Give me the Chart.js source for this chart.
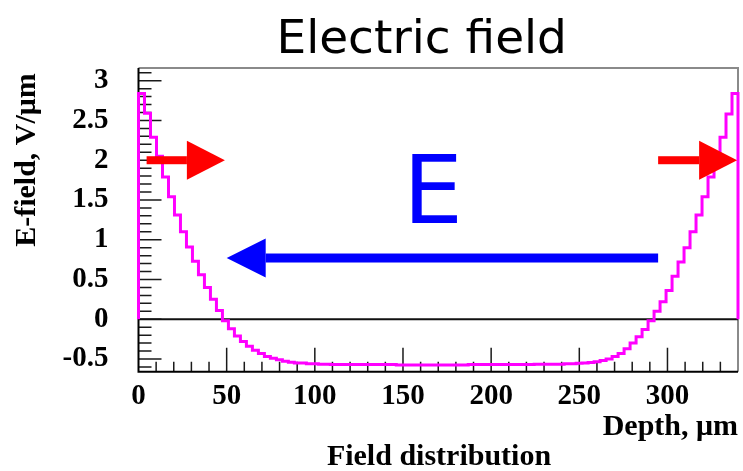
<!DOCTYPE html>
<html>
<head>
<meta charset="utf-8">
<script src="https://cdn.jsdelivr.net/npm/chart.js@4.4.0/dist/chart.umd.min.js"></script>
<style>
  html, body { margin: 0; padding: 0; background: #fff; }
  canvas { display: block; }
</style>
</head>
<body>
<canvas id="chart" width="743" height="471"></canvas>
<script>
// field histogram, one value per 3.4 um bin (0..340 um)
const binWidth = 3.4;
const fieldValues = [
  2.84, 2.59, 2.29, 2.05, 1.79, 1.54, 1.31, 1.10, 0.91, 0.73,
  0.56, 0.40, 0.25, 0.11, -0.02, -0.12, -0.21, -0.28, -0.34, -0.39,
  -0.43, -0.47, -0.49, -0.51, -0.53, -0.54, -0.55, -0.55, -0.56, -0.56,
  -0.565, -0.565, -0.57, -0.57, -0.57, -0.57, -0.57, -0.57, -0.57, -0.57,
  -0.57, -0.57, -0.57, -0.575, -0.575, -0.575, -0.575, -0.575, -0.575, -0.575,
  -0.575, -0.575, -0.575, -0.575, -0.575, -0.57, -0.57, -0.57, -0.57, -0.57,
  -0.57, -0.57, -0.57, -0.57, -0.57, -0.57, -0.565, -0.565, -0.565, -0.565,
  -0.565, -0.56, -0.56, -0.555, -0.55, -0.545, -0.535, -0.52, -0.50, -0.47,
  -0.43, -0.37, -0.30, -0.22, -0.13, -0.02, 0.10, 0.22, 0.36, 0.54,
  0.72, 0.90, 1.10, 1.31, 1.54, 1.79, 2.05, 2.29, 2.58, 2.84
];
const xTickValues = [0, 50, 100, 150, 200, 250, 300];
const xTickLabels = ['0', '50', '100', '150', '200', '250', '300'];
const yTickValues = [-0.5, 0, 0.5, 1, 1.5, 2, 2.5, 3];
const yTickLabels = ['-0.5', '0', '0.5', '1', '1.5', '2', '2.5', '3'];

// arrows drawn on top, in data units (um, V/um)
const redArrows = [
  { from: 4.6, to: 49, y: 2 },
  { from: 294.7, to: 339.5, y: 2 }
];
const blueArrow = { from: 294.7, to: 50, y: 0.77 };
const labelE = { x: 167, y: 1.21 };

const points = [{ x: 0, y: 0 }];
fieldValues.forEach((v, i) => points.push({ x: i * binWidth, y: v }));
const xEnd = fieldValues.length * binWidth;
points.push({ x: xEnd, y: fieldValues[fieldValues.length - 1] });
points.push({ x: xEnd, y: 0 });

const serif = '"Liberation Serif", "DejaVu Serif", serif';

function drawArrow(ctx, x, y, a, color, shaft, headLen, headHalf) {
  const x0 = x.getPixelForValue(a.from);
  const x1 = x.getPixelForValue(a.to);
  const py = y.getPixelForValue(a.y);
  const dir = x1 > x0 ? 1 : -1;
  const base = x1 - dir * headLen;
  ctx.fillStyle = color;
  ctx.fillRect(Math.min(x0, base), py - shaft / 2, Math.abs(base - x0), shaft);
  ctx.beginPath();
  ctx.moveTo(x1, py);
  ctx.lineTo(base, py - headHalf);
  ctx.lineTo(base, py + headHalf);
  ctx.closePath();
  ctx.fill();
}

const decorations = {
  id: 'decorations',
  beforeDatasetsDraw(chart) {
    const { ctx, chartArea: a, scales: { x, y } } = chart;
    ctx.save();
    // grey frame top and right
    ctx.strokeStyle = '#8a8a8a';
    ctx.lineWidth = 2;
    ctx.beginPath();
    ctx.moveTo(a.left, a.top);
    ctx.lineTo(a.right, a.top);
    ctx.lineTo(a.right, a.bottom);
    ctx.stroke();

    // inner ticks
    ctx.strokeStyle = '#1a1a1a';
    ctx.lineWidth = 1.5;
    ctx.beginPath();
    for (let k = -6; k <= 31; k++) {
      const py = y.getPixelForValue(k / 10);
      const len = k % 5 === 0 ? 23 : 13;
      ctx.moveTo(a.left, py);
      ctx.lineTo(a.left + len, py);
    }
    for (let k = 1; k <= 33; k++) {
      const px = x.getPixelForValue(k * 10);
      const len = k % 5 === 0 ? 24 : 10;
      ctx.moveTo(px, a.bottom);
      ctx.lineTo(px, a.bottom - len);
    }
    ctx.stroke();

    // zero line
    ctx.strokeStyle = '#111';
    ctx.lineWidth = 2;
    const y0 = y.getPixelForValue(0);
    ctx.beginPath();
    ctx.moveTo(a.left, y0);
    ctx.lineTo(a.right, y0);
    ctx.stroke();

    // axes
    ctx.strokeStyle = '#000';
    ctx.lineWidth = 2;
    ctx.beginPath();
    ctx.moveTo(a.left, a.top);
    ctx.lineTo(a.left, a.bottom);
    ctx.lineTo(a.right, a.bottom);
    ctx.stroke();
    ctx.restore();
  },
  afterDatasetsDraw(chart) {
    const { ctx, chartArea: a, scales: { x, y } } = chart;
    ctx.save();
    redArrows.forEach(r => drawArrow(ctx, x, y, r, '#ff0000', 8, 38, 19.5));
    drawArrow(ctx, x, y, blueArrow, '#0000ff', 9, 39, 19.5);

    ctx.fillStyle = '#0000ff';
    ctx.font = '95px "DejaVu Sans"';
    ctx.textAlign = 'center';
    ctx.textBaseline = 'alphabetic';
    ctx.fillText('E', x.getPixelForValue(labelE.x), y.getPixelForValue(labelE.y));

    ctx.fillStyle = '#000';
    ctx.font = '47px "DejaVu Sans"';
    ctx.fillText('Electric field', 421.7, 53);

    ctx.font = 'bold 30px ' + serif;
    ctx.fillText('Field distribution', 439, 465);
    ctx.textAlign = 'right';
    ctx.fillText('Depth, \u03bcm', a.right, 435);

    ctx.translate(35, 160);
    ctx.rotate(-Math.PI / 2);
    ctx.textAlign = 'center';
    ctx.fillText('E-field, V/\u03bcm', 0, 0);
    ctx.restore();
  }
};

new Chart(document.getElementById('chart'), {
  type: 'line',
  data: {
    datasets: [{
      data: points,
      borderColor: '#ff00ff',
      borderWidth: 3,
      pointRadius: 0,
      fill: false,
      stepped: true,
      clip: 4
    }]
  },
  options: {
    responsive: false,
    animation: false,
    devicePixelRatio: 1,
    layout: { padding: { top: 68, right: 5, left: 0, bottom: 0 } },
    plugins: { legend: { display: false }, tooltip: { enabled: false } },
    scales: {
      x: {
        type: 'linear',
        min: 0,
        max: 340,
        afterBuildTicks: s => { s.ticks = xTickValues.map(v => ({ value: v })); },
        afterFit: s => { s.height = 99.3; },
        grid: { display: false, drawTicks: false },
        border: { display: false },
        ticks: {
          color: '#000',
          padding: 7,
          maxRotation: 0,
          autoSkip: false,
          font: { family: serif, size: 29, weight: 'bold' },
          callback: (v, i) => xTickLabels[i]
        }
      },
      y: {
        type: 'linear',
        min: -0.66,
        max: 3.16,
        afterBuildTicks: s => { s.ticks = yTickValues.map(v => ({ value: v })); },
        afterFit: s => { s.width = 138.5; },
        grid: { display: false, drawTicks: false },
        border: { display: false },
        ticks: {
          color: '#000',
          padding: 30,
          autoSkip: false,
          font: { family: serif, size: 29, weight: 'bold' },
          callback: (v, i) => yTickLabels[i]
        }
      }
    }
  },
  plugins: [decorations]
});
</script>
</body>
</html>
